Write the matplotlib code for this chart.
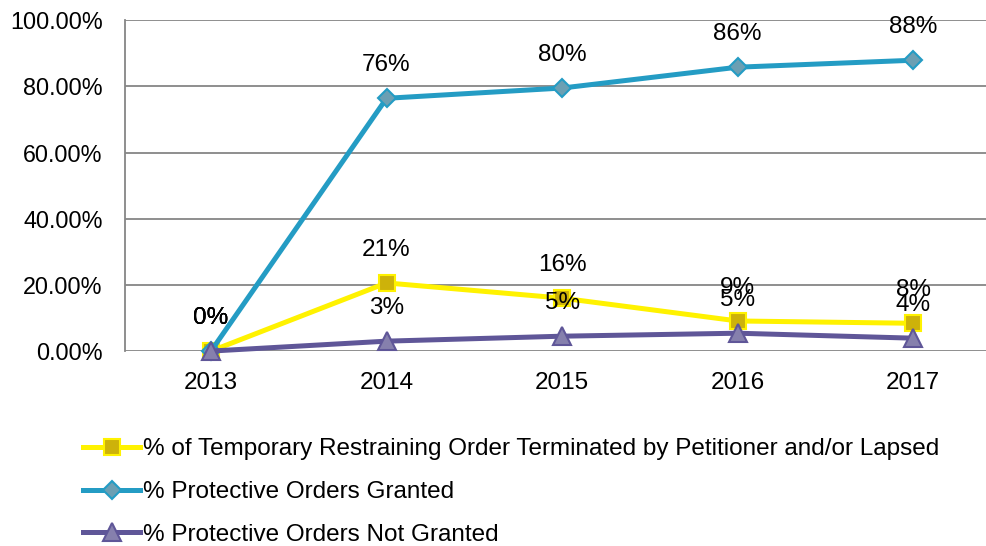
import matplotlib
matplotlib.use("Agg")
import matplotlib.pyplot as plt
from matplotlib.ticker import FuncFormatter

years = ["2013", "2014", "2015", "2016", "2017"]
tro_lapsed = [0.0, 0.206, 0.160, 0.091, 0.084]
po_granted = [0.0, 0.764, 0.795, 0.858, 0.879]
po_not_granted = [0.0, 0.030, 0.045, 0.054, 0.039]
tro_labels = ["0%", "21%", "16%", "9%", "8%"]
granted_labels = ["0%", "76%", "80%", "86%", "88%"]
not_granted_labels = ["0%", "3%", "5%", "5%", "4%"]

plt.rcParams["font.family"] = ["Liberation Sans", "DejaVu Sans"]
plt.rcParams["font.size"] = 17.5

fig = plt.figure(figsize=(9.87, 5.46), dpi=100)
ax = fig.add_axes([0.1266, 0.357, 0.8734, 0.606])

x = list(range(len(years)))
series = [
    (tro_lapsed, tro_labels, "#FFF200", "s", "#CDB20A", "#FFF200", 11.5,
     "% of Temporary Restraining Order Terminated by Petitioner and/or Lapsed"),
    (po_granted, granted_labels, "#249CC4", "D", "#6B9FB3", "#249CC4", 9,
     "% Protective Orders Granted"),
    (po_not_granted, not_granted_labels, "#5F5698", "^", "#8680AD", "#5F5698", 12.5,
     "% Protective Orders Not Granted"),
]

for vals, labs, color, mk, face, edge, ms, name in series:
    ax.plot(x, vals, color=color, lw=3.6, marker=mk, markersize=ms,
            markerfacecolor=face, markeredgecolor=edge, markeredgewidth=1.5,
            label=name, clip_on=False, zorder=3)
    for xi, v, lab in zip(x, vals, labs):
        ax.annotate(lab, (xi, v), xytext=(0, 24), textcoords="offset points",
                    ha="center", va="center", fontsize=17.5, zorder=4)

ax.set_xlim(-0.49, 4.42)
ax.set_ylim(0, 1)
ax.set_xticks(x)
ax.set_xticklabels(years)
ax.set_yticks([0, 0.2, 0.4, 0.6, 0.8, 1.0])
ax.yaxis.set_major_formatter(FuncFormatter(lambda v, p: f"{v * 100:.2f}%"))
ax.tick_params(length=0)
ax.tick_params(axis="y", pad=16, labelsize=16.8)
ax.tick_params(axis="x", pad=15, labelsize=17.5)
ax.grid(axis="y", color="#868686", lw=1.3)
ax.set_axisbelow(True)
for s in ["top", "right", "bottom"]:
    ax.spines[s].set_visible(False)
ax.spines["left"].set_color("#868686")
ax.spines["left"].set_linewidth(1.3)

fig.legend(loc="upper left", bbox_to_anchor=(0.0745, 0.215), frameon=False,
           handlelength=2.35, handletextpad=0.12, labelspacing=0.85,
           borderaxespad=0, fontsize=17.5)

fig.savefig("out.png", dpi=100)
